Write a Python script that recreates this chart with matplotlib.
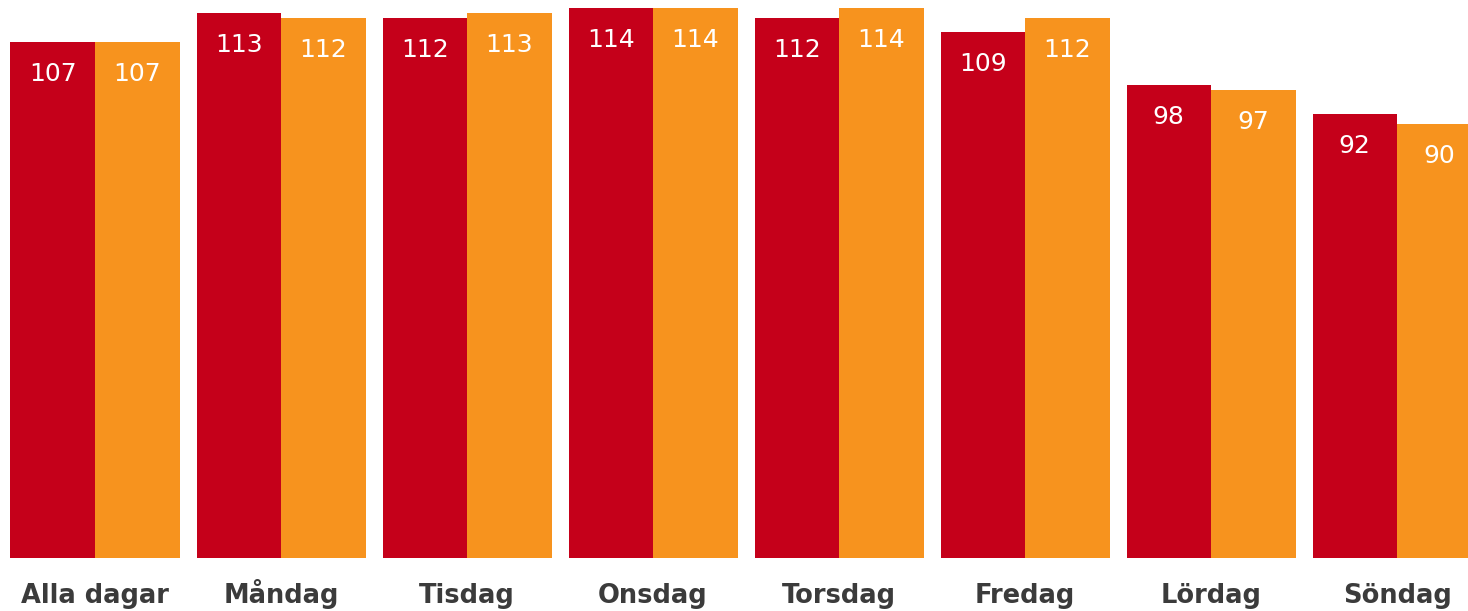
import matplotlib
matplotlib.use("Agg")
import matplotlib.pyplot as plt
import matplotlib.transforms as mtransforms
import numpy as np

plt.rcParams["font.family"] = ["DejaVu Sans"]

categories = ["Alla dagar", "Måndag", "Tisdag", "Onsdag", "Torsdag", "Fredag", "Lördag", "Söndag"]
series_a = [107, 113, 112, 114, 112, 109, 98, 92]
series_b = [107, 112, 113, 114, 114, 112, 97, 90]

RED = "#C5001A"
ORANGE = "#F7931E"
TXT = "#3B3B3B"

fig = plt.figure(figsize=(14.68, 6.11), dpi=100)
ax = fig.add_axes([0, 53 / 611, 1, 558 / 611])

x = np.arange(len(categories))
w = 84.5 / 186
ba = ax.bar(x - w / 2, series_a, width=w, color=RED, linewidth=0)
bb = ax.bar(x + w / 2, series_b, width=w, color=ORANGE, linewidth=0)

for bars, vals in ((ba, series_a), (bb, series_b)):
    for r, v in zip(bars, vals):
        ax.annotate(str(v), (r.get_x() + r.get_width() / 2, v),
                    xytext=(0, -28.3), textcoords="offset points",
                    ha="center", va="baseline", color="white", fontsize=18)

ax.set_xlim(-95 / 186, (1468 - 95) / 186)
ax.set_ylim(0, 114 * 558 / 550)
ax.set_xticks([])
ax.set_yticks([])
for s in ax.spines.values():
    s.set_visible(False)

trans = mtransforms.offset_copy(ax.get_xaxis_transform(), fig=fig, x=0, y=-45, units="dots")
for xi, lab in zip(x, categories):
    ax.text(xi, 0, lab, transform=trans, ha="center", va="baseline",
            fontsize=18.5, fontweight="bold", color=TXT, clip_on=False)

fig.savefig("out.png", dpi=100)
